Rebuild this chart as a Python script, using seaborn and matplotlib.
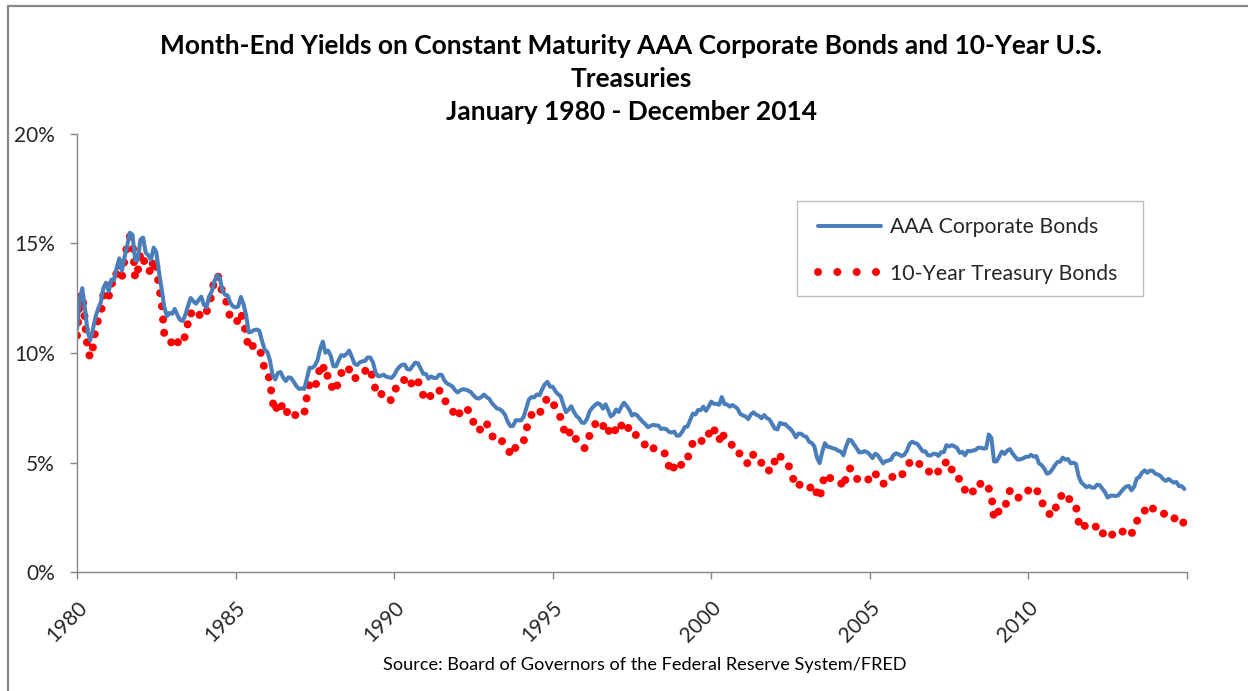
import numpy as np
import pandas as pd
import matplotlib
matplotlib.use('Agg')
import matplotlib.pyplot as plt
from matplotlib.lines import Line2D
from matplotlib.patches import Rectangle
from matplotlib.ticker import PercentFormatter, MultipleLocator
import seaborn as sns

# Month-end yields (%), Jan 1980 - Dec 2014, one row per year
aaa_yields = [
    11.09, 12.38, 12.96, 12.04, 10.99, 10.58, 11.07, 11.64, 12.02, 12.31, 12.97, 13.21,  # 1980
    12.81, 13.35, 13.33, 13.88, 14.32, 13.75, 14.38, 14.89, 15.49, 15.40, 14.22, 14.23,  # 1981
    15.18, 15.27, 14.58, 14.46, 14.26, 14.81, 14.61, 13.71, 12.94, 12.12, 11.68, 11.83,  # 1982
    11.79, 12.01, 11.73, 11.51, 11.46, 11.74, 12.15, 12.51, 12.37, 12.25, 12.41, 12.57,  # 1983
    12.20, 12.08, 12.57, 12.81, 13.28, 13.55, 13.44, 12.87, 12.66, 12.63, 12.29, 12.13,  # 1984
    12.08, 12.13, 12.56, 12.23, 11.72, 10.94, 10.97, 11.05, 11.07, 11.02, 10.55, 10.16,  # 1985
    10.05, 9.67, 9.00, 8.79, 9.09, 9.13, 8.88, 8.72, 8.89, 8.86, 8.68, 8.49,  # 1986
    8.36, 8.38, 8.36, 8.85, 9.33, 9.32, 9.42, 9.67, 10.18, 10.52, 10.01, 10.11,  # 1987
    9.88, 9.40, 9.39, 9.67, 9.90, 9.86, 9.96, 10.11, 9.82, 9.51, 9.45, 9.57,  # 1988
    9.62, 9.64, 9.80, 9.79, 9.57, 9.10, 8.93, 8.96, 9.01, 8.92, 8.89, 8.86,  # 1989
    8.99, 9.22, 9.37, 9.46, 9.47, 9.26, 9.24, 9.41, 9.56, 9.53, 9.30, 9.05,  # 1990
    9.04, 8.83, 8.93, 8.86, 8.86, 9.01, 9.00, 8.75, 8.61, 8.55, 8.48, 8.31,  # 1991
    8.20, 8.29, 8.35, 8.33, 8.28, 8.22, 8.07, 7.95, 7.92, 7.99, 8.10, 7.98,  # 1992
    7.91, 7.71, 7.58, 7.46, 7.43, 7.33, 7.17, 6.85, 6.66, 6.67, 6.93, 6.93,  # 1993
    6.92, 7.08, 7.48, 7.88, 7.99, 7.97, 8.11, 8.07, 8.34, 8.57, 8.68, 8.46,  # 1994
    8.46, 8.26, 8.12, 8.03, 7.65, 7.30, 7.41, 7.57, 7.32, 7.12, 7.02, 6.82,  # 1995
    6.81, 6.99, 7.35, 7.50, 7.62, 7.71, 7.65, 7.46, 7.66, 7.39, 7.10, 7.20,  # 1996
    7.42, 7.31, 7.55, 7.73, 7.58, 7.41, 7.14, 7.22, 7.15, 7.00, 6.87, 6.76,  # 1997
    6.61, 6.67, 6.72, 6.69, 6.69, 6.53, 6.55, 6.52, 6.40, 6.37, 6.41, 6.22,  # 1998
    6.24, 6.40, 6.62, 6.64, 6.93, 7.23, 7.19, 7.40, 7.39, 7.55, 7.36, 7.55,  # 1999
    7.78, 7.68, 7.68, 7.64, 7.99, 7.67, 7.65, 7.55, 7.62, 7.55, 7.45, 7.21,  # 2000
    7.15, 7.10, 6.98, 7.20, 7.29, 7.18, 7.13, 7.02, 7.17, 7.03, 6.97, 6.77,  # 2001
    6.55, 6.51, 6.81, 6.76, 6.75, 6.63, 6.53, 6.37, 6.15, 6.32, 6.31, 6.21,  # 2002
    6.17, 5.95, 5.89, 5.74, 5.22, 4.97, 5.49, 5.88, 5.72, 5.70, 5.65, 5.62,  # 2003
    5.54, 5.50, 5.33, 5.73, 6.04, 6.01, 5.82, 5.65, 5.46, 5.47, 5.52, 5.47,  # 2004
    5.36, 5.20, 5.40, 5.33, 5.15, 4.96, 5.06, 5.09, 5.13, 5.35, 5.42, 5.37,  # 2005
    5.29, 5.35, 5.53, 5.84, 5.95, 5.89, 5.85, 5.68, 5.51, 5.51, 5.33, 5.32,  # 2006
    5.40, 5.39, 5.30, 5.47, 5.47, 5.79, 5.73, 5.79, 5.74, 5.66, 5.44, 5.49,  # 2007
    5.33, 5.53, 5.51, 5.55, 5.57, 5.68, 5.67, 5.64, 5.65, 6.28, 6.12, 5.05,  # 2008
    5.05, 5.27, 5.50, 5.39, 5.54, 5.61, 5.41, 5.26, 5.13, 5.15, 5.19, 5.26,  # 2009
    5.26, 5.35, 5.27, 5.29, 4.96, 4.88, 4.72, 4.49, 4.53, 4.68, 4.87, 5.02,  # 2010
    5.04, 5.22, 5.13, 5.16, 4.96, 4.99, 4.93, 4.37, 4.09, 3.98, 3.87, 3.93,  # 2011
    3.85, 3.85, 3.99, 3.96, 3.80, 3.64, 3.40, 3.48, 3.49, 3.47, 3.50, 3.65,  # 2012
    3.80, 3.90, 3.93, 3.73, 3.89, 4.27, 4.34, 4.54, 4.64, 4.53, 4.63, 4.62,  # 2013
    4.49, 4.45, 4.38, 4.24, 4.16, 4.25, 4.16, 4.08, 4.11, 3.92, 3.92, 3.79,  # 2014
]

treasury_yields = [
    10.80, 12.41, 12.75, 11.47, 10.18, 9.78, 10.25, 11.10, 11.51, 11.75, 12.68, 12.84,  # 1980
    12.57, 13.19, 13.12, 13.68, 14.10, 13.47, 14.28, 14.94, 15.32, 15.15, 13.39, 13.72,  # 1981
    14.59, 14.43, 13.86, 13.87, 13.62, 14.30, 13.95, 13.06, 12.34, 10.91, 10.55, 10.54,  # 1982
    10.46, 10.72, 10.51, 10.40, 10.38, 10.85, 11.38, 11.85, 11.65, 11.54, 11.69, 11.83,  # 1983
    11.67, 11.84, 12.32, 12.63, 13.41, 13.56, 13.36, 12.72, 12.52, 12.16, 11.57, 11.50,  # 1984
    11.38, 11.51, 11.86, 11.43, 10.85, 10.16, 10.31, 10.33, 10.37, 10.24, 9.78, 9.26,  # 1985
    9.19, 8.70, 7.78, 7.30, 7.71, 7.80, 7.30, 7.17, 7.45, 7.43, 7.25, 7.11,  # 1986
    7.08, 7.25, 7.25, 8.02, 8.61, 8.40, 8.45, 8.76, 9.42, 9.52, 8.86, 8.99,  # 1987
    8.67, 8.21, 8.37, 8.72, 9.09, 8.92, 9.06, 9.26, 8.98, 8.80, 8.96, 9.11,  # 1988
    9.09, 9.17, 9.36, 9.18, 8.86, 8.28, 8.02, 8.11, 8.19, 8.01, 7.87, 7.84,  # 1989
    8.21, 8.47, 8.59, 8.79, 8.76, 8.48, 8.47, 8.75, 8.89, 8.72, 8.39, 8.08,  # 1990
    8.09, 7.85, 8.11, 8.04, 8.07, 8.28, 8.27, 7.90, 7.65, 7.53, 7.42, 7.09,  # 1991
    7.03, 7.34, 7.54, 7.48, 7.39, 7.26, 6.84, 6.59, 6.42, 6.59, 6.87, 6.77,  # 1992
    6.60, 6.26, 5.98, 5.97, 6.04, 5.96, 5.81, 5.68, 5.36, 5.33, 5.72, 5.77,  # 1993
    5.75, 5.97, 6.48, 6.97, 7.18, 7.10, 7.30, 7.24, 7.46, 7.74, 7.96, 7.81,  # 1994
    7.78, 7.47, 7.20, 7.06, 6.63, 6.17, 6.28, 6.49, 6.20, 6.04, 5.93, 5.71,  # 1995
    5.65, 5.81, 6.27, 6.51, 6.74, 6.91, 6.87, 6.64, 6.83, 6.53, 6.20, 6.30,  # 1996
    6.58, 6.42, 6.69, 6.89, 6.71, 6.49, 6.22, 6.30, 6.21, 6.03, 5.88, 5.81,  # 1997
    5.54, 5.57, 5.65, 5.64, 5.65, 5.50, 5.46, 5.34, 4.81, 4.53, 4.83, 4.65,  # 1998
    4.72, 5.00, 5.23, 5.18, 5.54, 5.90, 5.79, 5.94, 5.92, 6.11, 6.03, 6.28,  # 1999
    6.66, 6.52, 6.26, 5.99, 6.44, 6.10, 6.05, 5.83, 5.80, 5.74, 5.72, 5.24,  # 2000
    5.16, 5.10, 4.89, 5.14, 5.39, 5.28, 5.24, 4.97, 4.73, 4.57, 4.65, 5.09,  # 2001
    5.04, 4.91, 5.28, 5.21, 5.16, 4.93, 4.65, 4.26, 3.87, 3.94, 4.05, 4.03,  # 2002
    4.05, 3.90, 3.81, 3.96, 3.57, 3.33, 3.98, 4.45, 4.27, 4.29, 4.30, 4.27,  # 2003
    4.15, 4.08, 3.83, 4.35, 4.72, 4.73, 4.50, 4.28, 4.13, 4.10, 4.19, 4.23,  # 2004
    4.22, 4.17, 4.50, 4.34, 4.14, 4.00, 4.18, 4.26, 4.20, 4.46, 4.54, 4.47,  # 2005
    4.42, 4.57, 4.72, 4.99, 5.11, 5.11, 5.09, 4.88, 4.72, 4.73, 4.60, 4.56,  # 2006
    4.76, 4.72, 4.56, 4.69, 4.75, 5.10, 5.00, 4.67, 4.52, 4.53, 4.15, 4.10,  # 2007
    3.74, 3.74, 3.51, 3.68, 3.88, 4.10, 4.01, 3.89, 3.69, 3.81, 3.53, 2.42,  # 2008
    2.52, 2.87, 2.82, 2.93, 3.29, 3.72, 3.56, 3.59, 3.40, 3.39, 3.40, 3.59,  # 2009
    3.73, 3.69, 3.73, 3.85, 3.42, 3.20, 3.01, 2.70, 2.65, 2.54, 2.76, 3.29,  # 2010
    3.39, 3.58, 3.41, 3.46, 3.17, 3.00, 3.00, 2.30, 1.98, 2.15, 2.01, 1.98,  # 2011
    1.97, 1.97, 2.17, 2.05, 1.80, 1.62, 1.53, 1.68, 1.72, 1.75, 1.65, 1.72,  # 2012
    1.91, 1.98, 1.96, 1.76, 1.93, 2.30, 2.58, 2.74, 2.81, 2.62, 2.72, 2.90,  # 2013
    2.86, 2.71, 2.72, 2.71, 2.56, 2.60, 2.54, 2.42, 2.53, 2.30, 2.33, 2.21,  # 2014
]

year_ticks = [1980, 1985, 1990, 1995, 2000, 2005, 2010, 2015]
year_labels = ['1980', '1985', '1990', '1995', '2000', '2005', '2010', '']

months = pd.date_range('1980-01-01', '2014-12-01', freq='MS')
df = pd.DataFrame({
    'year': months.year + (months.month - 1) / 12,
    'AAA Corporate Bonds': aaa_yields,
    '10-Year Treasury Bonds': treasury_yields,
})

sns.set_theme(style='white')
plt.rcParams['font.family'] = ['Lato', 'DejaVu Sans']

blue = '#4A7EBB'
red = '#FF0000'
gray = '#868686'

fig = plt.figure(figsize=(12.48, 6.91), dpi=100)
ax = fig.add_axes([0.0617, 0.1722, 0.8894, 0.6339])

sns.lineplot(data=df, x='year', y='10-Year Treasury Bonds', ax=ax, color=red,
             linewidth=5.8, linestyle=(0, (0.001, 1.65)), dash_capstyle='round')
sns.lineplot(data=df, x='year', y='AAA Corporate Bonds', ax=ax, color=blue,
             linewidth=2.9, solid_joinstyle='round')

ax.set_xlim(1980, 2015)
ax.set_ylim(0, 20)
ax.set_xticks(year_ticks)
ax.set_xticklabels(year_labels, rotation=45, ha='right', rotation_mode='anchor')
ax.yaxis.set_major_locator(MultipleLocator(5))
ax.yaxis.set_major_formatter(PercentFormatter(xmax=100, decimals=0))
ax.set_xlabel('')
ax.set_ylabel('')

for side in ['top', 'right']:
    ax.spines[side].set_visible(False)
for side in ['left', 'bottom']:
    ax.spines[side].set_color(gray)
    ax.spines[side].set_linewidth(1)
ax.tick_params(axis='both', which='major', direction='out', length=5, width=1,
               color=gray, labelsize=15, labelcolor='#262626')
ax.tick_params(axis='y', pad=11, left=True)
ax.tick_params(axis='x', pad=13, bottom=True)

# legend: box drawn separately, entries placed inside it
ax.add_patch(Rectangle((797 / 1248, 1 - 296 / 691), 346 / 1248, 95 / 691,
                       transform=fig.transFigure, facecolor='white',
                       edgecolor='#BFBFBF', linewidth=1, zorder=4, clip_on=False))
handles = [
    Line2D([], [], color=blue, linewidth=2.9, solid_capstyle='round'),
    Line2D([], [], color=red, linewidth=5.8, linestyle=(0, (0.001, 2.4)), dash_capstyle='round'),
]
leg = ax.legend(handles, ['AAA Corporate Bonds', '10-Year Treasury Bonds'],
                loc='upper left', bbox_to_anchor=(818 / 1248, 1 - 217 / 691),
                bbox_transform=fig.transFigure, frameon=False,
                fontsize=15.3, handlelength=2.95, handletextpad=0.45,
                labelspacing=1.25, borderpad=0, borderaxespad=0)
leg.set_zorder(6)
for t in leg.get_texts():
    t.set_color('#262626')

fig.text(0.506, 1 - 79 / 691, 'Month-End Yields on Constant Maturity AAA Corporate Bonds and 10-Year U.S.\nTreasuries\nJanuary 1980 - December 2014',
         ha='center', va='center', fontsize=19, fontweight='bold', linespacing=1.45,
         color='black')

fig.text(0.517, 1 - 665 / 691, 'Source: Board of Governors of the Federal Reserve System/FRED',
         ha='center', va='center', fontsize=13.1, color='black')

# chart frame (top and left edges)
fig.add_artist(Line2D([8 / 1248, 8 / 1248], [0, 1 - 6 / 691], transform=fig.transFigure,
                      color='#888888', linewidth=1.6))
fig.add_artist(Line2D([8 / 1248, 1], [1 - 6 / 691, 1 - 6 / 691], transform=fig.transFigure,
                      color='#888888', linewidth=1.6))

fig.savefig('out.png', dpi=100, facecolor='white')
